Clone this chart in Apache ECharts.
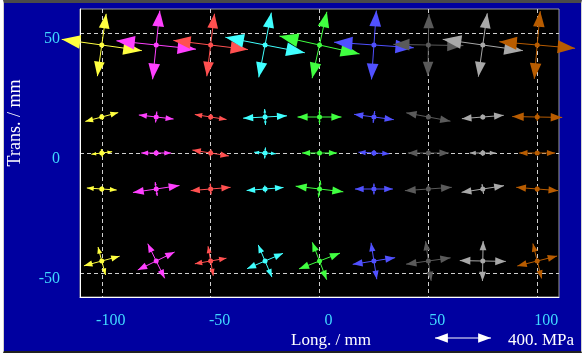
<!DOCTYPE html>
<html>
<head>
<meta charset="utf-8">
<script src="https://cdn.jsdelivr.net/npm/echarts@6/dist/echarts.min.js"></script>
<style>
html, body { margin: 0; padding: 0; background: #ffffff; }
#frame { position: absolute; left: 3px; top: 0; width: 577px; height: 348px;
  border-top: 3px solid #4a4a4a; border-left: 1px solid #d0d0d0;
  border-right: 1px solid #d0d0d0; border-bottom: 2px solid #202020; background: #0000a0; }
#chart { width: 577px; height: 348px; }
</style>
</head>
<body>
<div id="frame"><div id="chart"></div></div>
<script>
// measuring points (mm)
var xPos = [-100, -75, -50, -25, 0, 25, 50, 75, 100];
var yPos = [45, 15, 0, -15, -45];
var colors = ['#ffff40', '#ff40ff', '#ff5050', '#40ffff', '#40ff40', '#5050ff', '#5a5a5a', '#a8a8a8', '#b85c00'];
var xTicks = [-100, -50, 0, 50, 100];
var yTicks = [-50, 0, 50];

// principal stresses (MPa), one row per yPos
var sigma1 = [
  [578, 571, 536, 578, 586, 571, 500, 578, 543],
  [243, 250, 229, 314, 314, 286, 321, 300, 357],
  [150, 214, 264, 157, 250, 221, 293, 186, 257],
  [214, 336, 286, 264, 343, 271, 336, 307, 300],
  [264, 293, 229, 279, 314, 307, 321, 329, 293]
];
var sigma2 = [
  [450, 493, 450, 471, 486, 493, 443, 457, 486],
  [43, 79, 43, 114, 100, 86, 36, 36, 57],
  [57, 43, 50, 79, 43, 43, 43, 43, 29],
  [36, 100, 79, 50, 121, 79, 57, 71, 43],
  [207, 275, 214, 250, 286, 264, 286, 286, 257]
];
// direction of sigma1 (deg from x axis), sigma2 is perpendicular
var theta = [
  [-8, -6, -7, -11, -12.5, -4, -1, -8, -5],
  [15, -6.6, -9, 3, 0, -7.6, -10.6, 4.6, -1],
  [7, 0, -9, -4, 0, -3, 0, 0, 0],
  [-4, 8.5, 4.7, 4.6, -6.8, 0, 4, 9, -4.5],
  [15, 26, 10, 23, 21, 9, 8, -1, 14]
];
var refStress = 400;
var pxPerMPa = 56 / 400;

var data = [];
for (var r = 0; r < yPos.length; r++) {
  for (var c = 0; c < xPos.length; c++) {
    data.push([xPos[c], yPos[r], sigma1[r][c], sigma2[r][c], theta[r][c], c]);
  }
}

function arrow(cx, cy, len, ang, color) {
  var a = ang * Math.PI / 180, dx = Math.cos(a), dy = -Math.sin(a);
  var h = len / 2, hl = len * 0.23, hw = len * 0.085;
  var nx = -dy, ny = dx;
  var x1 = cx - dx * h, y1 = cy - dy * h, x2 = cx + dx * h, y2 = cy + dy * h;
  function head(tx, ty, sx, sy) {
    var bx = tx - sx * hl, by = ty - sy * hl;
    return { type: 'polygon', shape: { points: [[tx, ty], [bx + nx * hw, by + ny * hw], [bx - nx * hw, by - ny * hw]] },
      style: { fill: color } };
  }
  return [
    { type: 'line', shape: { x1: x1, y1: y1, x2: x2, y2: y2 }, style: { stroke: color, lineWidth: 1 } },
    head(x2, y2, dx, dy),
    head(x1, y1, -dx, -dy)
  ];
}

function renderItem(params, api) {
  var p = api.coord([api.value(0), api.value(1)]);
  var color = colors[api.value(5)];
  var ang = api.value(4);
  var kids = []
    .concat(arrow(p[0], p[1], api.value(2) * pxPerMPa, ang, color))
    .concat(arrow(p[0], p[1], api.value(3) * pxPerMPa, ang + 90, color));
  kids.push({ type: 'circle', shape: { cx: p[0], cy: p[1], r: 2.5 }, style: { fill: color } });
  return { type: 'group', children: kids };
}

var labelFont = { color: '#40d8ff', fontFamily: 'Liberation Serif', fontSize: 16 };
var myChart = echarts.init(document.getElementById('chart'));
var option = {
  animation: false,
  grid: { left: 76, top: 6, right: 22, bottom: 54, show: true, backgroundColor: '#000000',
    borderColor: '#9a9a9a', borderWidth: 1 },
  xAxis: {
    type: 'value', min: -110, max: 110,
    axisLine: { onZero: false, lineStyle: { color: '#ffffff', width: 1 } },
    axisTick: { show: false, customValues: xTicks },
    axisLabel: Object.assign({ customValues: xTicks, margin: 16, padding: [0, 0, 0, 18] }, labelFont),
    splitLine: { show: true, lineStyle: { color: '#d0d0d0', type: [4, 3], width: 1 } }
  },
  yAxis: {
    type: 'value', min: -60, max: 60,
    axisLine: { onZero: false, lineStyle: { color: '#ffffff', width: 1 } },
    axisTick: { show: false, customValues: yTicks },
    axisLabel: Object.assign({ customValues: yTicks, margin: 20, verticalAlign: 'top', lineHeight: 12 }, labelFont),
    splitLine: { show: true, lineStyle: { color: '#d0d0d0', type: [4, 3], width: 1 } }
  },
  graphic: [
    { type: 'text', x: 327, y: 338, style: { text: 'Long. / mm', fill: '#ffffff',
      font: '17px "Liberation Serif"', align: 'center', verticalAlign: 'middle' } },
    { type: 'text', x: 11, y: 120, rotation: Math.PI / 2, style: { text: 'Trans. / mm', fill: '#ffffff',
      font: '18px "Liberation Serif"', align: 'center', verticalAlign: 'middle' } },
    { type: 'group', x: 459, y: 335, children: arrow(0, 0, refStress * pxPerMPa, 0, '#ffffff') },
    { type: 'text', x: 504, y: 338, style: { text: refStress + '. MPa', fill: '#ffffff',
      font: '17px "Liberation Serif"', align: 'left', verticalAlign: 'middle' } }
  ],
  series: [{
    type: 'custom',
    renderItem: renderItem,
    data: data,
    clip: false,
    z: 3
  }]
};
myChart.setOption(option);
</script>
</body>
</html>
